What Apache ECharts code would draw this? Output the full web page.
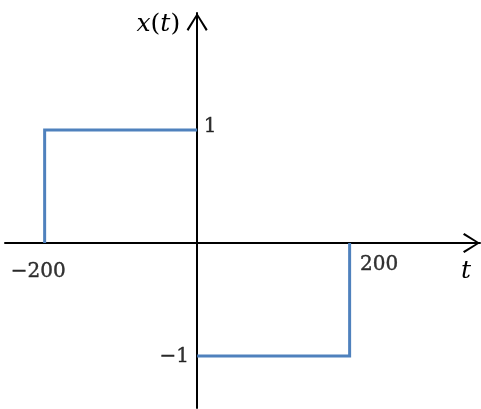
<!DOCTYPE html>
<html>
<head>
<meta charset="utf-8">
<script src="https://cdn.jsdelivr.net/npm/echarts@6/dist/echarts.min.js"></script>
<style>
html,body{margin:0;padding:0;background:#fff;}
#chart{width:481px;height:409px;}
</style>
</head>
<body>
<div id="chart"></div>
<script>
// Signal x(t): rectangular pulses
const positiveT = [-200, -200, 0];
const positiveX = [0, 1, 1];
const negativeT = [0, 200, 200];
const negativeX = [-1, -1, 0];
const tTicks = [-200, 200];
const xTicks = [-1, 1];
const yName = 'x(t)';
const tName = 't';

const chevron = 'path://M10.5 0 L21 16.6 L19.3 18 L10.5 3.3 L1.7 18 L0 16.6 Z';
const fontFamily = '"DejaVu Serif", "Liberation Serif", serif';

function pairs(ts, vs) { return ts.map((t, i) => [t, vs[i]]); }
function fmt(v) { return v < 0 ? '\u2212' + Math.abs(v) : String(v); }

// label offsets relative to each tick position (layout only)
const tTickOffsets = {'-200': [-6.5, 29], '200': [29.5, 21.5]};
const xTickOffsets = {'-1': [-23, 0.5], '1': [13, -3.5]};

function tickLabel(text, off) {
  return {
    show: true,
    formatter: text,
    position: [off[0] + 0.5, off[1] + 0.5],
    align: 'center',
    verticalAlign: 'middle',
    fontFamily: fontFamily,
    fontSize: 20,
    color: '#000',
    textBorderColor: '#000',
    textBorderWidth: 0.4
  };
}

const tickLabelData = tTicks.map(v => ({
  value: [v, 0],
  label: tickLabel(fmt(v), tTickOffsets[String(v)])
})).concat(xTicks.map(v => ({
  value: [0, v],
  label: tickLabel(fmt(v), xTickOffsets[String(v)])
})));

const chart = echarts.init(document.getElementById('chart'), null, {renderer: 'canvas'});
chart.setOption({
  animation: false,
  backgroundColor: '#ffffff',
  grid: {left: 5, right: 1, top: 13, bottom: 1, containLabel: false, outerBoundsMode: 'none'},
  xAxis: {
    type: 'value',
    min: -252, max: 371,
    name: '{t|' + tName + '}',
    nameLocation: 'end',
    nameGap: -14,
    nameTextStyle: {
      align: 'center', verticalAlign: 'top',
      rich: {
        t: {fontFamily: fontFamily, fontStyle: 'italic', fontSize: 25, color: '#000', padding: [16, 0, 0, 0]}
      }
    },
    axisLine: {
      onZero: true,
      lineStyle: {color: '#000', width: 2},
      symbol: ['none', chevron],
      symbolSize: [20, 17],
      symbolOffset: [0, -8.5]
    },
    axisTick: {show: false},
    splitLine: {show: false},
    axisLabel: {show: false}
  },
  yAxis: {
    type: 'value',
    min: -1.46, max: 2.035,
    name: '{i|x}{u|(}{i|t}{u|)}',
    nameLocation: 'end',
    nameGap: -11,
    nameTextStyle: {
      align: 'right', verticalAlign: 'middle', padding: [0, 17, 0, 0],
      rich: {
        i: {fontFamily: fontFamily, fontStyle: 'italic', fontSize: 25, color: '#000'},
        u: {fontFamily: fontFamily, fontSize: 25, color: '#000'}
      }
    },
    axisLine: {
      onZero: true,
      lineStyle: {color: '#000', width: 2},
      symbol: ['none', chevron],
      symbolSize: [21, 18],
      symbolOffset: [0, -9]
    },
    axisTick: {show: false},
    splitLine: {show: false},
    axisLabel: {show: false}
  },
  series: [
    {
      type: 'line',
      data: pairs(positiveT, positiveX),
      showSymbol: false, symbol: 'none',
      lineStyle: {color: '#4F81BD', width: 3, join: 'miter', cap: 'butt'},
      z: 1
    },
    {
      type: 'line',
      data: pairs(negativeT, negativeX),
      showSymbol: false, symbol: 'none',
      lineStyle: {color: '#4F81BD', width: 3, join: 'miter', cap: 'butt'},
      z: 1
    },
    {
      type: 'scatter',
      name: 'tick labels',
      silent: true,
      symbolSize: 1,
      itemStyle: {color: 'rgba(0,0,0,0)'},
      data: tickLabelData,
      labelLayout: {hideOverlap: false},
      label: {
        show: true,
        fontFamily: fontFamily,
        fontSize: 20,
        color: '#000'
      },
      z: 5
    }
  ]
});
</script>
</body>
</html>
